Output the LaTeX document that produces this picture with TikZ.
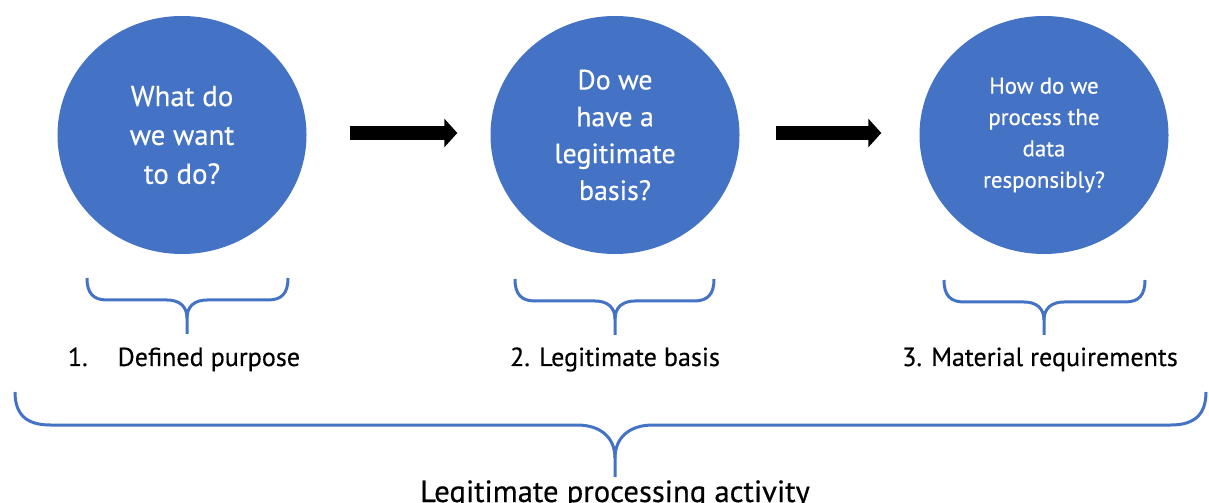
\documentclass[tikz,border=0pt]{standalone}
\usepackage{fontspec}
\setmainfont{PT Sans}[FakeBold=0.4]
\usetikzlibrary{arrows.meta,shapes.geometric}

\definecolor{stageblue}{HTML}{4472C4}

\tikzset{
  stage/.style={ellipse, fill=stageblue, minimum width=249bp, minimum height=238bp, inner sep=0pt,
    text=white, align=center, font=\fontsize{28}{37}\selectfont},
  flow/.style={line width=14bp, -{Triangle[width=28bp,length=13bp]}},
  curly/.style={stageblue, line width=3bp},
  steplabel/.style={anchor=base, font=\fontsize{26.2}{30}\selectfont}
}

\begin{document}
\begin{tikzpicture}[x=1bp, y=-1bp]
  \useasboundingbox (0,0) rectangle (1209,503);

  % the three questions
  \node[stage, font=\fontsize{29}{39}\selectfont] (want) at (182,135) {What do\\we want\\to do?};
  \node[stage] (basis) at (615,135) {Do we\\have a\\legitimate\\basis?};
  \node[stage, font=\fontsize{23}{31.5}\selectfont] (howto) at (1044,135) {How do we\\process the\\data\\responsibly?};

  % arrows between them
  \draw[flow, shorten <=43bp, shorten >=33bp] ([yshift=2bp]want.east) -- ([yshift=2bp]basis.west);
  \draw[flow, shorten <=36bp, shorten >=38bp] ([yshift=2bp]basis.east) -- ([yshift=2bp]howto.west);

  % small braces under each circle
  \draw[curly] (87,278) .. controls (87,293) and (93,300) .. (107,300) -- (167,300)
    .. controls (179,300) and (187,306) .. (187,318) -- (187,334);
  \draw[curly] (288,278) .. controls (288,293) and (282,300) .. (268,300) -- (207,300)
    .. controls (195,300) and (187,306) .. (187,318);

  \draw[curly] (515,279) .. controls (515,294) and (521,301) .. (535,301) -- (595,301)
    .. controls (607,301) and (615,307) .. (615,319) -- (615,335);
  \draw[curly] (714,279) .. controls (714,294) and (708,301) .. (694,301) -- (635,301)
    .. controls (623,301) and (615,307) .. (615,319);

  \draw[curly] (944,280) .. controls (944,295) and (950,302) .. (964,302) -- (1024,302)
    .. controls (1036,302) and (1044,308) .. (1044,320) -- (1044,335);
  \draw[curly] (1145,280) .. controls (1145,295) and (1139,302) .. (1125,302) -- (1064,302)
    .. controls (1052,302) and (1044,308) .. (1044,320);

  % step names
  \node[steplabel] (purpose) at (184,366) {1.\hspace{30bp}Defined purpose};
  \node[steplabel] (legit) at (615,366) {2. Legitimate basis};
  \node[steplabel] (material) at (1040,366) {3. Material requirements};

  % big brace over everything
  \draw[curly] (15,392) .. controls (15,414) and (26,425) .. (50,425) -- (577,425)
    .. controls (601,425) and (615,438) .. (615,458) -- (615,477);
  \draw[curly] (1206,392) .. controls (1206,414) and (1195,425) .. (1171,425) -- (653,425)
    .. controls (629,425) and (615,438) .. (615,458);

  \node[anchor=base, font=\fontsize{30.8}{34}\selectfont] (activity) at (615,502) {Legitimate processing activity};
\end{tikzpicture}
\end{document}
